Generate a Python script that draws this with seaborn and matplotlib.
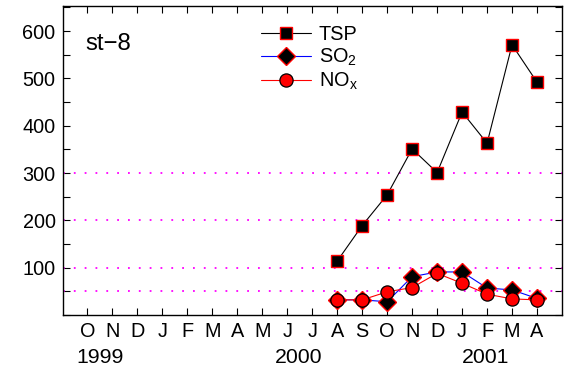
import numpy as np
import pandas as pd
import matplotlib
matplotlib.use("Agg")
import matplotlib.pyplot as plt
import matplotlib.transforms as mtransforms
import seaborn as sns

# ---- data ----
month_labels = ['O', 'N', 'D', 'J', 'F', 'M', 'A', 'M', 'J', 'J',
                'A', 'S', 'O', 'N', 'D', 'J', 'F', 'M', 'A']
month_pos = list(range(1, 20))
data_pos = [11, 12, 13, 14, 15, 16, 17, 18, 19]
tsp = [114, 189, 254, 351, 301, 429, 363, 571, 492]
so2 = [32, 32, 28, 81, 91, 91, 57, 53, 35]
nox = [32, 32, 49, 58, 88, 67, 44, 34, 32]
years = ['1999', '2000', '2001']
year_pos = [1.5, 9.47, 16.95]
grid_levels = [50, 100, 200, 300]
station = 'st\u22128'

sns.set_style("ticks")
plt.rcParams['font.family'] = ['Liberation Sans', 'DejaVu Sans']
plt.rcParams['mathtext.fontset'] = 'custom'
plt.rcParams['mathtext.rm'] = 'Liberation Sans'
plt.rcParams['mathtext.it'] = 'Liberation Sans'
for k in ['text.color', 'axes.labelcolor', 'xtick.color', 'ytick.color', 'axes.edgecolor']:
    plt.rcParams[k] = 'black'

fig = plt.figure(figsize=(5.69, 3.68), dpi=100)
ax = fig.add_axes([62.5 / 569, 53 / 368, 499.5 / 569, 309 / 368])

for g in grid_levels:
    ax.axhline(g, color='#FF00FF', lw=1.3, linestyle=(0, (1, 5)), zorder=1)

df = pd.DataFrame({'x': data_pos, 'TSP': tsp, 'SO2': so2, 'NOx': nox})

sns.lineplot(data=df, x='x', y='TSP', ax=ax, color='black', lw=0.8,
             marker='s', markersize=8, markerfacecolor='black',
             markeredgecolor='red', markeredgewidth=1.0, label='TSP', zorder=3)
sns.lineplot(data=df, x='x', y='SO2', ax=ax, color='blue', lw=0.8,
             marker='D', markersize=9, markerfacecolor='black',
             markeredgecolor='red', markeredgewidth=1.0, label='SO$_2$', zorder=4)
sns.lineplot(data=df, x='x', y='NOx', ax=ax, color='red', lw=0.8,
             marker='o', markersize=9.5, markerfacecolor='red',
             markeredgecolor='black', markeredgewidth=0.9, label='NO$_x$', zorder=5)

ax.set_xlim(0, 20)
ax.set_ylim(0, 653)
ax.set_xticks(month_pos)
ax.set_xticklabels(month_labels)
ax.set_yticks(np.arange(0, 651, 50))
ax.set_yticklabels(['' if v % 100 else str(v) if v > 0 else '' for v in range(0, 651, 50)])
ax.set_xlabel('')
ax.set_ylabel('')
ax.tick_params(direction='in', length=5, width=0.8, top=True, right=True,
               labelsize=14.3, colors='black', pad=5)
for s in ax.spines.values():
    s.set_linewidth(1.0)
    s.set_color('black')

trans = mtransforms.blended_transform_factory(ax.transData, ax.transAxes)
for yl, xp in zip(years, year_pos):
    ax.text(xp, -0.136, yl, transform=trans, ha='center', va='center', fontsize=15.3)

ax.text(0.045, 0.857, station, transform=ax.transAxes, ha='left',
        va='baseline', fontsize=17.3)

leg = ax.legend(loc='upper left', bbox_to_anchor=(0.37, 0.985), frameon=False,
                fontsize=14.3, handlelength=2.5, handletextpad=0.4,
                labelspacing=0.15, borderaxespad=0.3)

fig.savefig('out.png', dpi=100)
